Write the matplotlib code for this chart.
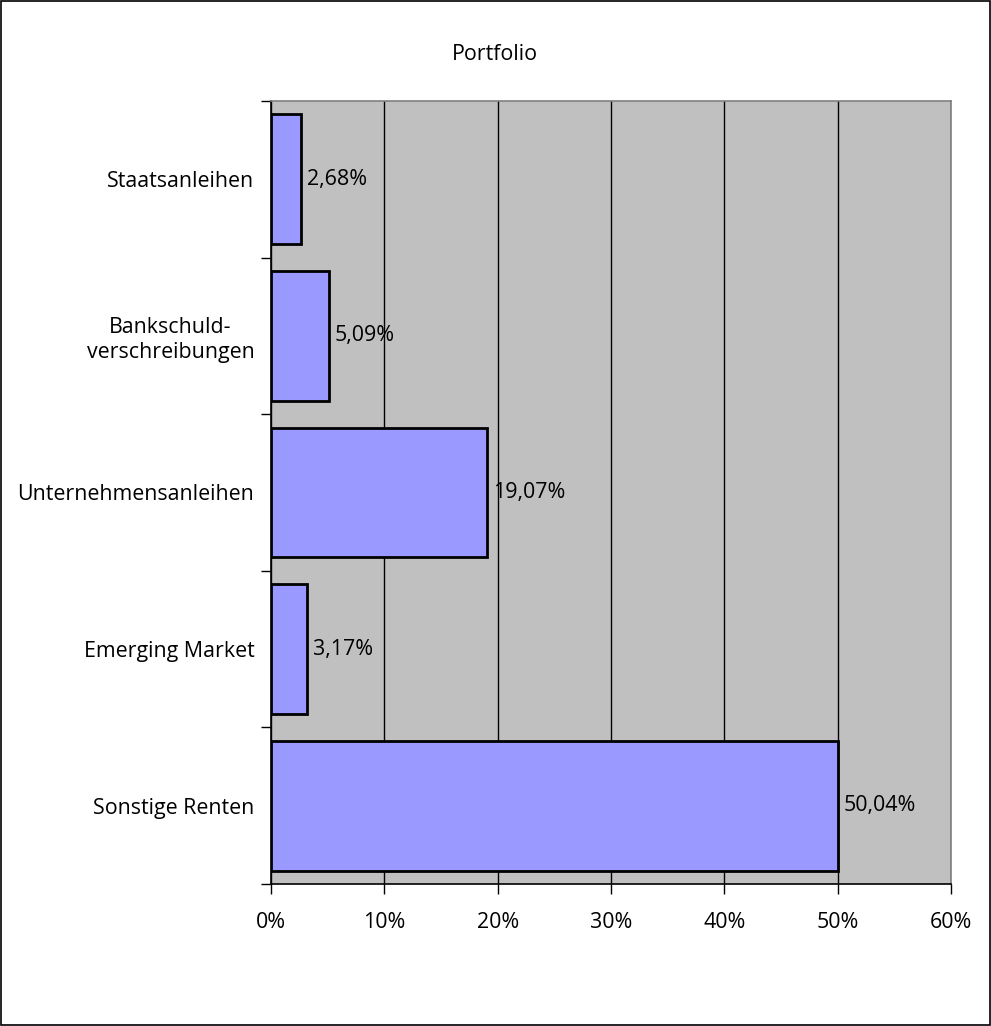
import matplotlib.pyplot as plt
from matplotlib.patches import Rectangle

categories = ['Staatsanleihen', 'Bankschuld-\nverschreibungen', 'Unternehmensanleihen',
              'Emerging Market', 'Sonstige Renten']
values = [2.68, 5.09, 19.07, 3.17, 50.04]
xticks = [0, 10, 20, 30, 40, 50, 60]

plt.rcParams['font.family'] = ['Open Sans', 'DejaVu Sans']
fs = 15.4

fig = plt.figure(figsize=(9.91, 10.26), dpi=100)
ax = fig.add_axes([271 / 991, 1 - 884 / 1026, 680 / 991, 783 / 1026])
ax.set_facecolor('#C0C0C0')

y = list(range(len(categories)))
ax.barh(y, values, height=0.83, color='#9999FF', edgecolor='black', linewidth=2, zorder=3)
for yi, v in zip(y, values):
    ax.text(v + 0.5, yi, f'{v:.2f}%'.replace('.', ','), va='center', ha='left',
            fontsize=fs, zorder=4)

ax.set_xlim(0, 60)
ax.set_ylim(len(categories) - 0.5, -0.5)
ax.set_xticks(xticks)
ax.set_xticklabels([f'{t}%' for t in xticks], fontsize=fs)
ax.set_yticks(y)
ax.set_yticklabels(categories, fontsize=fs, linespacing=1.25)
ax.set_yticks([i - 0.5 for i in range(len(categories) + 1)], minor=True)
ax.tick_params(axis='y', which='major', length=0, pad=12)
ax.tick_params(axis='y', which='minor', length=7, width=1, color='black')
ax.tick_params(axis='x', length=7, width=1, pad=13)
for lbl in ax.get_yticklabels():
    lbl.set_multialignment('center')

ax.grid(axis='x', color='black', linewidth=1, zorder=1)
ax.set_axisbelow(True)
ax.spines['left'].set_color('black')
ax.spines['bottom'].set_color('black')
ax.spines['top'].set_color('#808080')
ax.spines['right'].set_color('#808080')
for s in ax.spines.values():
    s.set_linewidth(1.2)

fig.text(495 / 991, 1 - 55 / 1026, 'Portfolio', ha='center', va='center', fontsize=fs)
fig.patches.append(Rectangle((0.001, 0.001), 0.998, 0.998, transform=fig.transFigure,
                             fill=False, edgecolor='black', linewidth=1.2))

fig.savefig('out.png', dpi=100)
